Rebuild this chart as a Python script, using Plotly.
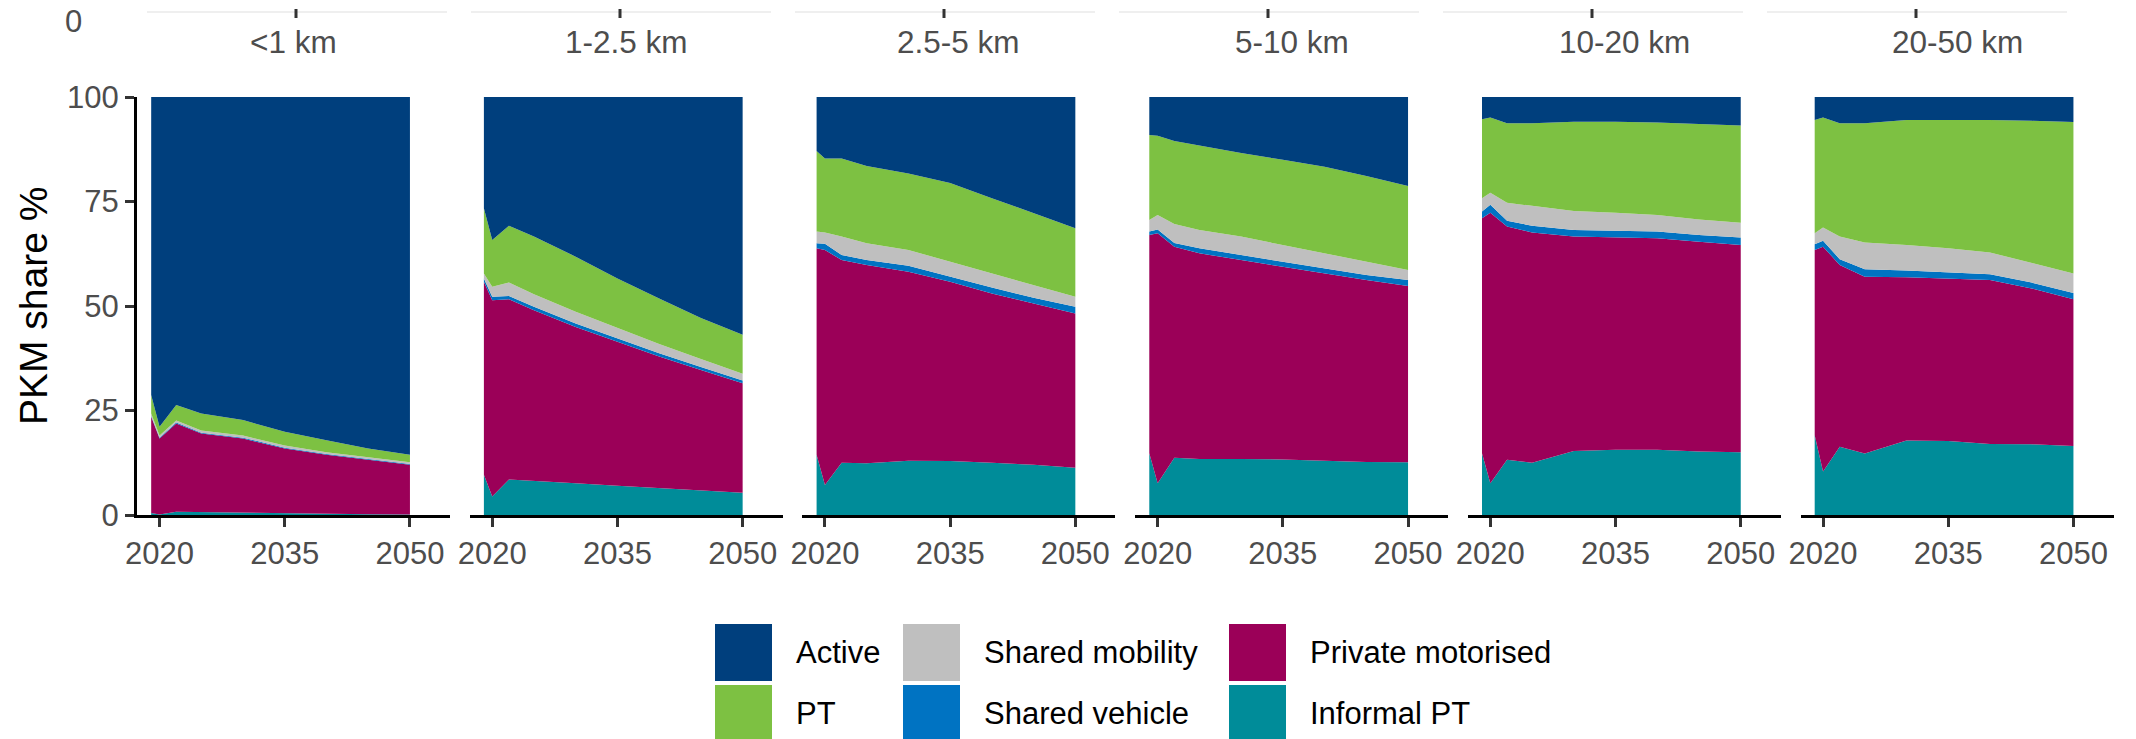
import plotly.graph_objects as go

# ---------------- data ----------------
years = [2019, 2020, 2022, 2025, 2030, 2035, 2040, 2045, 2050]
distance_bands = ["<1 km", "1-2.5 km", "2.5-5 km", "5-10 km", "10-20 km", "20-50 km"]
x_tick_years = [2020, 2035, 2050]
y_ticks = [0, 25, 50, 75, 100]

# PKM share (%) per distance band, one list per band (order as distance_bands)
informal_pt = [
    [0.5, 0.1, 0.8, 0.7, 0.6, 0.5, 0.3, 0.2, 0.1],
    [9.6, 4.4, 8.5, 8.1, 7.6, 7.0, 6.4, 5.8, 5.3],
    [14.4, 7.2, 12.5, 12.4, 13.0, 12.9, 12.5, 12.0, 11.3],
    [14.8, 7.6, 13.7, 13.4, 13.4, 13.3, 13.0, 12.7, 12.6],
    [14.8, 7.6, 13.2, 12.5, 15.3, 15.6, 15.6, 15.2, 15.0],
    [19.1, 10.4, 16.3, 14.7, 17.8, 17.7, 17.0, 16.9, 16.5],
]
private_motorised = [
    [23.0, 18.2, 21.1, 18.8, 17.7, 15.4, 14.1, 13.0, 11.9],
    [46.2, 47.0, 43.1, 40.9, 37.4, 34.5, 31.5, 28.9, 26.2],
    [49.4, 56.2, 48.5, 47.4, 45.2, 42.9, 40.5, 38.6, 36.9],
    [52.2, 59.8, 50.5, 49.2, 47.6, 46.1, 44.8, 43.5, 42.2],
    [56.2, 64.7, 55.8, 55.1, 51.3, 50.8, 50.6, 50.2, 49.6],
    [44.3, 53.8, 43.5, 42.3, 39.1, 38.9, 39.2, 37.3, 35.1],
]
shared_vehicle = [
    [0.2, 0.2, 0.2, 0.2, 0.2, 0.2, 0.2, 0.2, 0.2],
    [0.8, 0.8, 0.8, 0.8, 0.8, 0.8, 0.8, 0.7, 0.7],
    [1.2, 1.5, 1.2, 1.2, 1.4, 1.2, 1.4, 1.4, 1.6],
    [0.8, 0.9, 0.9, 1.2, 1.2, 1.2, 1.2, 1.2, 1.4],
    [1.6, 1.9, 1.4, 1.6, 1.6, 1.6, 1.6, 1.6, 1.8],
    [1.4, 1.4, 1.4, 1.8, 1.6, 1.4, 1.4, 1.4, 1.5],
]
shared_mobility = [
    [0.6, 0.5, 0.5, 0.5, 0.5, 0.5, 0.4, 0.4, 0.4],
    [1.2, 2.4, 3.2, 3.0, 2.8, 2.5, 2.2, 1.9, 1.6],
    [2.8, 2.7, 4.4, 4.0, 3.8, 3.6, 3.4, 3.0, 2.4],
    [2.8, 3.5, 4.5, 4.4, 4.4, 4.0, 3.6, 3.2, 2.4],
    [3.2, 2.9, 4.3, 4.7, 4.5, 4.3, 4.0, 3.7, 3.5],
    [2.6, 3.2, 5.4, 6.4, 6.1, 5.8, 5.2, 4.7, 4.7],
]
pt = [
    [4.4, 2.1, 3.7, 4.1, 3.7, 3.3, 2.9, 2.1, 1.8],
    [15.6, 11.2, 13.6, 13.8, 13.2, 11.8, 10.9, 9.8, 9.3],
    [19.3, 17.7, 18.7, 18.5, 18.3, 18.8, 18.0, 17.2, 16.4],
    [20.3, 18.9, 19.9, 20.2, 20.0, 20.4, 20.7, 20.5, 20.1],
    [18.9, 18.0, 19.0, 19.8, 21.4, 21.8, 22.1, 22.9, 23.3],
    [27.1, 26.3, 27.1, 28.5, 29.9, 30.7, 31.7, 34.0, 36.2],
]
active = [
    [71.3, 78.9, 73.7, 75.7, 77.3, 80.1, 82.1, 84.1, 85.6],
    [26.6, 34.2, 30.8, 33.4, 38.2, 43.4, 48.2, 52.9, 56.9],
    [12.9, 14.7, 14.7, 16.5, 18.3, 20.6, 24.2, 27.8, 31.4],
    [9.1, 9.3, 10.5, 11.6, 13.4, 15.0, 16.7, 18.9, 21.3],
    [5.3, 4.9, 6.3, 6.3, 5.9, 5.9, 6.1, 6.4, 6.8],
    [5.5, 4.9, 6.3, 6.3, 5.5, 5.5, 5.5, 5.7, 6.0],
]

# stacking order: bottom -> top
mode_names = ["Informal PT", "Private motorised", "Shared vehicle",
              "Shared mobility", "PT", "Active"]
mode_values = [informal_pt, private_motorised, shared_vehicle,
               shared_mobility, pt, active]
mode_colors = ["#008C99", "#9B0058", "#0073C2", "#BFBFBF", "#7DC142", "#003F7D"]

legend_columns = [["Active", "PT"],
                  ["Shared mobility", "Shared vehicle"],
                  ["Private motorised", "Informal PT"]]

# ---------------- layout constants (pixels) ----------------
W, H = 2136, 739
FONT = "Liberation Sans, Arial, sans-serif"
panel_left0, panel_step, panel_w = 137.0, 332.7, 313.0
y_bottom_px, y_top_px = 515.0, 97.0
x_range = [2017.3, 2054.8]


def px_x(v):
    return v / W


def px_y(v):
    return 1 - v / H


fig = go.Figure()
layout_axes = {}
annotations = []
shapes = []

for k, band in enumerate(distance_bands):
    suffix = "" if k == 0 else str(k + 1)
    xa, ya = "x" + suffix, "y" + suffix
    for name, vals, color in zip(mode_names, mode_values, mode_colors):
        fig.add_trace(go.Scatter(
            x=years, y=vals[k], name=name, mode="lines",
            stackgroup="band%d" % k, line=dict(width=0, color=color),
            fillcolor=color, showlegend=False, xaxis=xa, yaxis=ya,
            hovertemplate=name + ": %{y:.1f}%<extra>" + band + "</extra>",
        ))
    left = panel_left0 + panel_step * k
    right = left + panel_w
    layout_axes["xaxis" + suffix] = dict(
        domain=[px_x(left), px_x(right)], range=x_range, anchor=ya,
        tickvals=x_tick_years, showline=True, linecolor="black", linewidth=3,
        ticks="outside", ticklen=9, tickwidth=3, tickcolor="#333333",
        tickfont=dict(size=31, color="#4D4D4D", family=FONT),
        showgrid=False, zeroline=False, fixedrange=True, automargin=False,
    )
    if k == 0:
        layout_axes["yaxis"] = dict(
            domain=[px_y(y_bottom_px), px_y(y_top_px)], range=[0, 100], anchor="x",
            tickvals=y_ticks, showline=True, linecolor="black", linewidth=3,
            ticks="outside", ticklen=9, tickwidth=3, tickcolor="#333333",
            tickfont=dict(size=31, color="#4D4D4D", family=FONT),
            showgrid=False, zeroline=False, fixedrange=True, automargin=False,
        )
    else:
        layout_axes["yaxis" + suffix] = dict(
            domain=[px_y(y_bottom_px), px_y(y_top_px)], range=[0, 100], anchor=xa,
            showline=False, showticklabels=False, ticks="", showgrid=False,
            zeroline=False, fixedrange=True, automargin=False,
        )
    # facet strip label
    annotations.append(dict(
        text=band, x=px_x((left + right) / 2), y=px_y(42), xref="paper", yref="paper",
        xanchor="center", yanchor="middle", showarrow=False,
        font=dict(size=31.5, color="#4D4D4D", family=FONT),
    ))

# y-axis title
annotations.append(dict(
    text="PKM share %", x=px_x(33), y=px_y((y_bottom_px + y_top_px) / 2),
    xref="paper", yref="paper", textangle=-90, showarrow=False,
    xanchor="center", yanchor="middle",
    font=dict(size=39, color="black", family=FONT),
))

# remnants of the figure row above
annotations.append(dict(
    text="0", x=px_x(73), y=px_y(21), xref="paper", yref="paper",
    xanchor="center", yanchor="middle", showarrow=False,
    font=dict(size=31, color="#4D4D4D", family=FONT),
))
for j in range(6):
    seg_left = 147 + 324 * j
    shapes.append(dict(type="line", xref="paper", yref="paper",
                       x0=px_x(seg_left), x1=px_x(seg_left + 300),
                       y0=px_y(12), y1=px_y(12),
                       line=dict(color="#EFEFEF", width=2)))
    shapes.append(dict(type="line", xref="paper", yref="paper",
                       x0=px_x(296 + 324 * j), x1=px_x(296 + 324 * j),
                       y0=px_y(9), y1=px_y(18),
                       line=dict(color="#333333", width=3)))

# custom legend (ggplot-style large keys, column-major)
color_of = dict(zip(mode_names, mode_colors))
col_box_left = [715, 903, 1229]
row_box_top = [624, 685]
box_size = 57
text_gap = 22
for c, col in enumerate(legend_columns):
    for r, name in enumerate(col):
        bx, by = col_box_left[c], row_box_top[r]
        shapes.append(dict(type="rect", xref="paper", yref="paper",
                           x0=px_x(bx), x1=px_x(bx + box_size),
                           y0=px_y(by + box_size), y1=px_y(by),
                           fillcolor=color_of[name], line=dict(width=0)))
        annotations.append(dict(
            text=name, x=px_x(bx + box_size + text_gap), y=px_y(by + box_size / 2),
            xref="paper", yref="paper", xanchor="left", yanchor="middle",
            showarrow=False, font=dict(size=31, color="black", family=FONT),
        ))

fig.update_layout(
    width=W, height=H,
    margin=dict(l=0, r=0, t=0, b=0, pad=0, autoexpand=False),
    paper_bgcolor="white", plot_bgcolor="white",
    font=dict(family=FONT, color="#4D4D4D"),
    showlegend=False, annotations=annotations, shapes=shapes,
    **layout_axes,
)

fig.write_html("out.html")
